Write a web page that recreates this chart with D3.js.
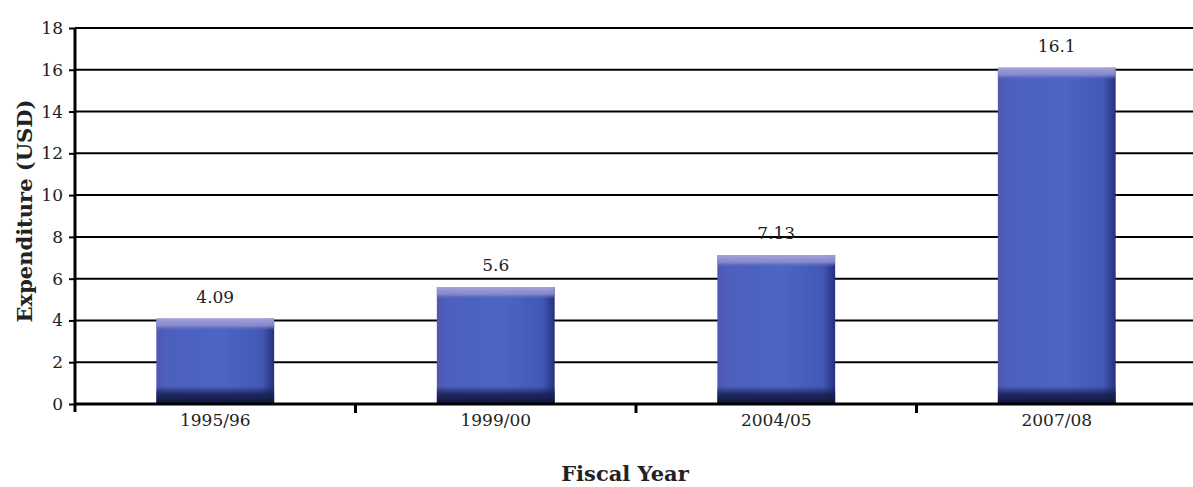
<!DOCTYPE html>
<html>
<head>
<meta charset="utf-8">
<script src="https://cdn.jsdelivr.net/npm/d3@7/dist/d3.min.js"></script>
<style>
  body { margin: 0; background: #fff; }
  svg { display: block; font-family: Georgia, "DejaVu Serif", serif; }
</style>
</head>
<body>
<div id="chart"></div>
<script>
const categories = ['1995/96', '1999/00', '2004/05', '2007/08'];
const values = [4.09, 5.6, 7.13, 16.1];
const valueLabels = ['4.09', '5.6', '7.13', '16.1'];
const yTicks = [0, 2, 4, 6, 8, 10, 12, 14, 16, 18];

const W = 1193, H = 487;
const margin = { top: 28, right: -4, bottom: 83, left: 75 };
const width = W - margin.left - margin.right;
const height = H - margin.top - margin.bottom;
const serif = 'Georgia, "DejaVu Serif", serif';

const svg = d3.select('#chart').append('svg')
  .attr('width', W).attr('height', H);

const defs = svg.append('defs');

// body: horizontal shading, darker toward the right edge
const side = defs.append('linearGradient').attr('id', 'barSide')
  .attr('x1', '0%').attr('x2', '100%').attr('y1', '0%').attr('y2', '0%');
side.append('stop').attr('offset', '0%').attr('stop-color', '#5257b0');
side.append('stop').attr('offset', '8%').attr('stop-color', '#4c5fbd');
side.append('stop').attr('offset', '55%').attr('stop-color', '#4d65c3');
side.append('stop').attr('offset', '90%').attr('stop-color', '#4258b4');
side.append('stop').attr('offset', '100%').attr('stop-color', '#26307a');

const cap = defs.append('linearGradient').attr('id', 'barCap')
  .attr('x1', '0%').attr('x2', '0%').attr('y1', '0%').attr('y2', '100%');
cap.append('stop').attr('offset', '0%').attr('stop-color', '#aaa6da').attr('stop-opacity', 0.95);
cap.append('stop').attr('offset', '60%').attr('stop-color', '#8e90d0').attr('stop-opacity', 0.85);
cap.append('stop').attr('offset', '100%').attr('stop-color', '#5a6cc4').attr('stop-opacity', 0);

const base = defs.append('linearGradient').attr('id', 'barBase')
  .attr('x1', '0%').attr('x2', '0%').attr('y1', '0%').attr('y2', '100%');
base.append('stop').attr('offset', '0%').attr('stop-color', '#1a2260').attr('stop-opacity', 0);
base.append('stop').attr('offset', '45%').attr('stop-color', '#18204f').attr('stop-opacity', 0.85);
base.append('stop').attr('offset', '100%').attr('stop-color', '#0e1438').attr('stop-opacity', 1);

const g = svg.append('g').attr('transform', `translate(${margin.left},${margin.top})`);

const x = d3.scaleBand().domain(categories).range([0, width]).paddingInner(0.58).paddingOuter(0.29);
const y = d3.scaleLinear().domain([0, 18]).range([height, 0]);

// gridlines
g.append('g').selectAll('line').data(yTicks.filter(d => d > 0)).join('line')
  .attr('x1', 0).attr('x2', width)
  .attr('y1', d => y(d)).attr('y2', d => y(d))
  .attr('stroke', '#000').attr('stroke-width', 2);

// bars
const bars = g.append('g').selectAll('g').data(values).join('g')
  .attr('transform', (d, i) => `translate(${x(categories[i])},0)`);

bars.append('rect')
  .attr('y', d => y(d)).attr('width', x.bandwidth())
  .attr('height', d => y(0) - y(d)).attr('fill', 'url(#barSide)');
bars.append('rect')
  .attr('y', d => y(d)).attr('width', x.bandwidth())
  .attr('height', 12).attr('fill', 'url(#barCap)');
bars.append('rect')
  .attr('y', d => y(0) - 18).attr('width', x.bandwidth())
  .attr('height', 18).attr('fill', 'url(#barBase)');

// value labels
bars.append('text')
  .attr('x', x.bandwidth() / 2).attr('y', d => y(d) - 16)
  .attr('text-anchor', 'middle').attr('font-size', 17).attr('fill', '#222')
  .text((d, i) => valueLabels[i]);

// y axis
const yAxis = g.append('g').call(d3.axisLeft(y).tickValues(yTicks).tickSize(6).tickPadding(6));
yAxis.select('.domain').attr('stroke-width', 3).attr('d', `M0,${height + 8}V0`);
yAxis.selectAll('.tick line').attr('stroke-width', 2);
yAxis.selectAll('text').attr('font-size', 17).attr('fill', '#222').attr('font-family', serif);

// x axis
const xAxis = g.append('g').attr('transform', `translate(0,${height})`)
  .call(d3.axisBottom(x).tickSize(0).tickPadding(10));
xAxis.select('.domain').attr('stroke-width', 3).attr('d', `M0,0H${width}`);
xAxis.selectAll('text').attr('font-size', 17).attr('fill', '#222').attr('font-family', serif);

// category boundary ticks
const bounds = categories.slice(1).map(c => x(c) - x.step() * x.paddingInner() / 2);
g.append('g').selectAll('line').data(bounds).join('line')
  .attr('x1', d => d).attr('x2', d => d)
  .attr('y1', height).attr('y2', height + 9)
  .attr('stroke', '#000').attr('stroke-width', 3);

// axis titles
svg.append('text')
  .attr('transform', `translate(32,${margin.top + 183}) rotate(-90)`)
  .attr('text-anchor', 'middle').attr('font-size', 21).attr('font-weight', 'bold').attr('fill', '#222')
  .text('Expenditure (USD)');

svg.append('text')
  .attr('x', 625).attr('y', 481)
  .attr('text-anchor', 'middle').attr('font-size', 21).attr('font-weight', 'bold').attr('fill', '#222')
  .text('Fiscal Year');
</script>
</body>
</html>
